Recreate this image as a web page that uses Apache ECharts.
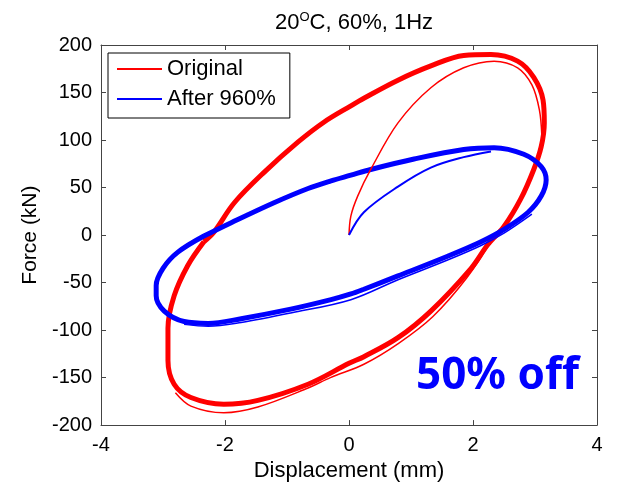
<!DOCTYPE html>
<html>
<head>
<meta charset="utf-8">
<script src="https://cdn.jsdelivr.net/npm/echarts@6/dist/echarts.min.js"></script>
<style>
html,body{margin:0;padding:0;background:#fff;}
#chart{width:620px;height:487px;}
</style>
</head>
<body>
<div id="chart"></div>
<script>
// hysteresis loops, [displacement mm, force kN]
var redLoop = [[-2.34,-7],[-2.18,3],[-1.85,34],[-1.37,66],[-0.82,98],[-0.40,119],[0.03,136],[0.24,144],[0.79,163],[1.32,178],[1.85,189],[2.29,190],[2.72,183],[2.98,166],[3.13,142],[3.15,118],[3.10,93],[2.98,69],[2.77,38],[2.50,9],[2.24,-10],[1.97,-35],[1.32,-80],[0.79,-108],[0.24,-128],[0,-135],[-0.66,-157],[-1.47,-174],[-2.02,-178],[-2.55,-171],[-2.82,-157],[-2.92,-132],[-2.92,-98],[-2.82,-64],[-2.60,-32],[-2.34,-7]];
var redFirst = [[0,0],[0.03,20],[0.14,41],[0.35,69],[0.79,118],[1.32,155],[1.85,176],[2.34,183],[2.72,176],[2.95,158],[3.07,132],[3.11,105]];
var redInner = [[2.3,-5],[1.9,-45],[1.35,-86],[0.8,-114],[0.24,-136],[-0.3,-150],[-0.66,-161],[-1.47,-181],[-2.02,-187],[-2.55,-180],[-2.8,-166]];
var blueLoop = [[-2.34,-1],[-1.90,13],[-1.21,34],[-0.66,49],[-0.29,57],[0.03,63],[0.35,69],[1.05,80],[1.85,90],[2.34,92],[2.82,85],[3.10,72],[3.18,58],[3.10,41],[2.89,24],[2.50,6],[2.13,-7],[1.60,-22],[0.79,-43],[0.24,-57],[0.03,-62],[-0.29,-68],[-0.94,-78],[-1.74,-88],[-2.27,-93],[-2.66,-91],[-2.98,-80],[-3.11,-64],[-3.11,-53],[-3.0,-35],[-2.76,-18],[-2.34,-1]];
var blueFirst = [[0,0],[0.24,24],[0.79,51],[1.32,71],[1.85,82],[2.29,88]];
var blueInner = [[2.95,22],[2.5,2],[2.13,-11],[1.6,-26],[0.79,-47],[0.03,-68],[-0.94,-82],[-1.74,-92],[-2.27,-96],[-2.66,-94]];
var seriesNames = ['Original', 'After 960%'];
var xTicks = {min: -4, max: 4, step: 2};
var yTicks = {min: -200, max: 200, step: 50};

var RED = '#ff0000', BLUE = '#0000ff';
var font = 'Liberation Sans, Arial, sans-serif';

function line(name, data, color, width) {
  return {
    name: name, type: 'line', data: data, smooth: 0.35,
    symbol: 'none', animation: false, z: 3,
    lineStyle: {color: color, width: width},
    itemStyle: {color: color}
  };
}

function axisBase(pos, t) {
  return {
    position: pos, type: 'value', min: t.min, max: t.max, interval: t.step,
    axisLine: {show: true, onZero: false, lineStyle: {color: '#444', width: 1}},
    axisTick: {show: true, inside: true, length: 5, lineStyle: {color: '#444'}},
    axisLabel: {show: false},
    splitLine: {show: false}
  };
}

var chart = echarts.init(document.getElementById('chart'));
var xMain = axisBase('bottom', xTicks);
xMain.name = 'Displacement (mm)'; xMain.nameLocation = 'middle'; xMain.nameGap = 34;
xMain.nameTextStyle = {fontFamily: font, fontSize: 22, color: '#000'};
xMain.axisLabel = {fontFamily: font, fontSize: 20, color: '#000', margin: 10};
var xTop = axisBase('top', xTicks);

var yMain = axisBase('left', yTicks);
yMain.name = 'Force (kN)'; yMain.nameLocation = 'middle'; yMain.nameGap = 60;
yMain.nameTextStyle = {fontFamily: font, fontSize: 21, color: '#000'};
yMain.axisLabel = {fontFamily: font, fontSize: 20, color: '#000', margin: 9};
var yRight = axisBase('right', yTicks);

var option = {
  backgroundColor: '#fff',
  title: {
    text: '20{sup|O}C, 60%, 1Hz',
    left: 349, top: 6, textAlign: 'center',
    textStyle: {
      fontFamily: font, fontSize: 22, fontWeight: 'normal', color: '#000',
      rich: {sup: {fontFamily: font, fontSize: 13, color: '#000', padding: [0, 0, 11, 0]}}
    }
  },
  grid: {left: 101, right: 23, top: 45, bottom: 59},
  legend: {
    data: seriesNames, orient: 'vertical', left: 108, top: 53,
    borderColor: '#000', borderWidth: 1, backgroundColor: '#fff',
    padding: [5, 14, 8, 9], itemGap: 8, itemWidth: 45, itemHeight: 2,
    icon: 'rect',
    textStyle: {fontFamily: font, fontSize: 22, color: '#000', padding: [0, 0, 0, 0]}
  },
  xAxis: [xMain, xTop],
  yAxis: [yMain, yRight],
  graphic: [{
    type: 'text', left: 416, top: 354, z: 10,
    style: {text: '50% off', fill: BLUE, font: 'bold 44px "Noto Sans", sans-serif'}
  }],
  series: [
    line(seriesNames[0], redLoop, RED, 5),
    line(seriesNames[1], blueLoop, BLUE, 5),
    line(seriesNames[0], redFirst, RED, 1.5),
    line(seriesNames[0], redInner, RED, 1.5),
    line(seriesNames[1], blueFirst, BLUE, 2),
    line(seriesNames[1], blueInner, BLUE, 1.5)
  ]
};
chart.setOption(option);
</script>
</body>
</html>
